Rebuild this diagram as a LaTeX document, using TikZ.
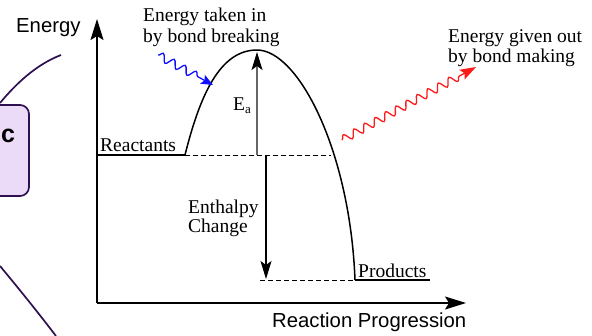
\documentclass[tikz,border=0pt]{standalone}
\usepackage{fontspec}
\setmainfont{Liberation Serif}
\setsansfont{Liberation Sans}
\usetikzlibrary{arrows.meta,decorations.pathmorphing}
\definecolor{annotfill}{HTML}{EBDAF8}
\definecolor{annotline}{HTML}{2E0F50}
\definecolor{wavered}{HTML}{FF1A1A}
\definecolor{waveblue}{HTML}{1010FF}
\tikzset{
  serif/.style={font=\fontsize{19.5}{20}\selectfont, inner sep=0pt, anchor=base west},
  sanslabel/.style={font=\sffamily\fontsize{20.3}{22}\selectfont, inner sep=0pt, anchor=base west},
  bigtip/.style={-{Stealth[length=21pt,width=13pt,inset=4pt]}},
  axis/.style={line width=1.3pt, bigtip},
  level/.style={line width=1.2pt},
  dashlevel/.style={line width=0.9pt, dashed, dash pattern=on 4.5pt off 3.5pt},
  curve/.style={line width=1.5pt},
  wave/.style={line width=1.3pt, decorate},
  annot/.style={line width=1.7pt, draw=annotline},
}
\begin{document}
\begin{tikzpicture}[x=1pt,y=-1pt]
\useasboundingbox (0,0) rectangle (592,335);
% annotation (hand drawn)
\draw[annot, fill=annotfill, rounded corners=9pt] (-12,105) rectangle (29,196);
\node[font=\sffamily\bfseries\fontsize{25}{26}\selectfont, inner sep=0pt, anchor=base west] (c) at (1,142) {c};
\coordinate (u1) at (0,103);
\coordinate (u2) at (61,55);
\draw[annot] (u1) .. controls (15,85) and (35,65) .. (u2);
\coordinate (d1) at (0,266);
\coordinate (d2) at (56,336);
\draw[annot] (d1) .. controls (20,290) and (40,315) .. (d2);
% axes
\coordinate (O) at (97,303);
\coordinate (Ytip) at (97,19);
\coordinate (Xtip) at (466,303);
\draw[axis] (O) -- (Ytip);
\draw[axis] (O) -- (Xtip);
\node[sanslabel] (energy) at (16,32) {Energy};
\node[sanslabel] (progress) at (272,327) {Reaction Progression};
% levels
\coordinate (R0) at (97,155);
\coordinate (R1) at (185,155);
\coordinate (R2) at (331,155);
\coordinate (P0) at (260,280);
\coordinate (P1) at (355,280);
\coordinate (P2) at (430,280);
\coordinate (peak) at (257,50);
\draw[level] (R0) -- (R1);
\draw[dashlevel] (R1) -- (R2);
\draw[level] (P1) -- (P2);
\draw[dashlevel] (P0) -- (P1);
\draw[curve] (R1) .. controls (200,95) and (220,50) .. (peak)
             .. controls (298,50) and (350,150) .. (P1);
\node[serif] (react) at (100,151) {Reactants};
\node[serif] (prod) at (358,277) {Products};
% Ea arrow
\coordinate (ea0) at (257,155);
\coordinate (ea1) at (257,52);
\draw[line width=1.3pt, draw=black!60, -{Stealth[length=18pt,width=11pt,inset=4pt,color=black]}] (ea0) -- (ea1);
\node[serif] (ea) at (233,110) {E\raisebox{-0.35ex}{\fontsize{13}{13}\selectfont a}};
% Enthalpy arrow
\coordinate (dh0) at (266,155);
\coordinate (dh1) at (266,279);
\draw[line width=1.3pt, -{Stealth[length=18pt,width=11pt,inset=4pt]}] (dh0) -- (dh1);
\node[serif] (enth1) at (188,213) {Enthalpy};
\node[serif] (enth2) at (188,232) {Change};
% wavy arrows
\coordinate (b0) at (158,55);
\coordinate (b1) at (213,85);
\draw[wave, waveblue, decoration={snake, amplitude=4pt, segment length=12.5pt, post length=13pt}, -{Stealth[length=12pt,width=10pt,inset=2.5pt]}] (b0) -- (b1);
\node[serif] (take1) at (143,21) {Energy taken in};
\node[serif] (take2) at (143,42) {by bond breaking};
\coordinate (r0) at (342,140);
\coordinate (r1) at (476,67);
\draw[wave, wavered, decoration={snake, amplitude=4pt, segment length=12pt, post length=16pt}, -{Stealth[length=16pt,width=11pt,inset=3pt]}] (r0) -- (r1);
\node[serif] (give1) at (448,42) {Energy given out};
\node[serif] (give2) at (448,62) {by bond making};
\end{tikzpicture}
\end{document}
